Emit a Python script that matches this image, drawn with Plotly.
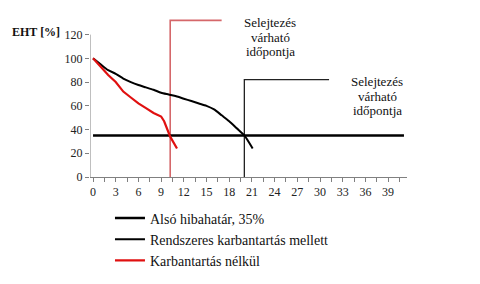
import plotly.graph_objects as go

# data
years_maint = [0, 1, 2, 3, 4, 5, 6, 7, 8, 9, 10, 11, 12, 13, 14, 15, 16, 17, 18, 19, 20, 21.1]
eht_maint = [100, 95, 90, 87, 83, 80, 77.5, 75.5, 73.5, 71, 69.5, 68, 66, 64, 62, 60, 57, 52, 47, 41, 35, 24]
years_nomaint = [0, 1, 2, 3, 4, 5, 6, 7, 8, 9, 9.4, 10.2, 11.1]
eht_nomaint = [100, 93, 86, 80, 72, 67, 62, 58, 54, 51, 47, 34, 24]
limit_x = [0, 41.1]
limit_y = [35, 35]
scrap_nomaint_x = [10.2, 10.2, 17]
scrap_nomaint_y = [-5, 132, 132]
scrap_maint_x = [20, 20, 31.2]
scrap_maint_y = [-3, 82, 82]
x_ticks = list(range(0, 40, 3))
y_ticks = list(range(0, 121, 20))

SERIF = "Liberation Serif"

fig = go.Figure()
fig.add_trace(go.Scatter(x=scrap_nomaint_x, y=scrap_nomaint_y, mode="lines",
                         line=dict(color="#d5676a", width=1.6), showlegend=False, hoverinfo="skip"))
fig.add_trace(go.Scatter(x=scrap_maint_x, y=scrap_maint_y, mode="lines",
                         line=dict(color="#222222", width=1.3), showlegend=False, hoverinfo="skip"))
fig.add_trace(go.Scatter(x=limit_x, y=limit_y, mode="lines", name="Alsó hibahatár, 35%",
                         line=dict(color="#000000", width=2.5)))
fig.add_trace(go.Scatter(x=years_maint, y=eht_maint, mode="lines", name="Rendszeres karbantartás mellett",
                         line=dict(color="#000000", width=2, shape="spline", smoothing=0.6)))
fig.add_trace(go.Scatter(x=years_nomaint, y=eht_nomaint, mode="lines", name="Karbantartás nélkül",
                         line=dict(color="#e01010", width=2.2)))

# y axis line (only up to 120)
fig.add_shape(type="line", xref="x", yref="y", x0=-0.4, x1=-0.4, y0=0, y1=120,
              line=dict(color="#808080", width=1))

def ann(text, x, y, size=13, bold=False, xanchor="center", xref="x", yref="y"):
    fig.add_annotation(text=f"<b>{text}</b>" if bold else text, x=x, y=y, xref=xref, yref=yref,
                       showarrow=False, xanchor=xanchor, yanchor="middle",
                       font=dict(family=SERIF, size=size, color="#111111"))

for i, line in enumerate(["Selejtezés", "várható", "időpontja"]):
    ann(line, 23.4, 130 - i * 12.2)
    ann(line, 37.6, 80.3 - i * 12.2)

ann("EHT [%]", -0.17, 122, size=12, bold=True, xref="paper")
ann("Idő [év]", 1.15, -17, size=12, bold=True, xref="paper")

fig.update_layout(
    width=480, height=284,
    margin=dict(l=90, r=73, t=18, b=107, autoexpand=False),
    paper_bgcolor="white", plot_bgcolor="white",
    font=dict(family=SERIF, size=12, color="#222222"),
    showlegend=True,
    legend=dict(x=0.063, y=-0.16, xanchor="left", yanchor="top", font=dict(family=SERIF, size=14, color="#111111"),
                bgcolor="rgba(0,0,0,0)", itemwidth=30, tracegroupgap=0),
    xaxis=dict(range=[-0.4, 41.5], tickvals=x_ticks, ticks="outside", ticklen=4, tickcolor="#808080",
               showgrid=False, zeroline=False, showline=True, linecolor="#808080", linewidth=1,
               minor=dict(dtick=1.5, tick0=0, ticks="outside", ticklen=4, tickcolor="#808080", showgrid=False),
               tickfont=dict(family=SERIF, size=12, color="#222222")),
    yaxis=dict(range=[0, 134], tickvals=y_ticks, ticks="outside", ticklen=4, tickcolor="#808080",
               showgrid=False, zeroline=False, showline=False,
               tickfont=dict(family=SERIF, size=12, color="#222222")),
)

fig.write_html("out.html")
